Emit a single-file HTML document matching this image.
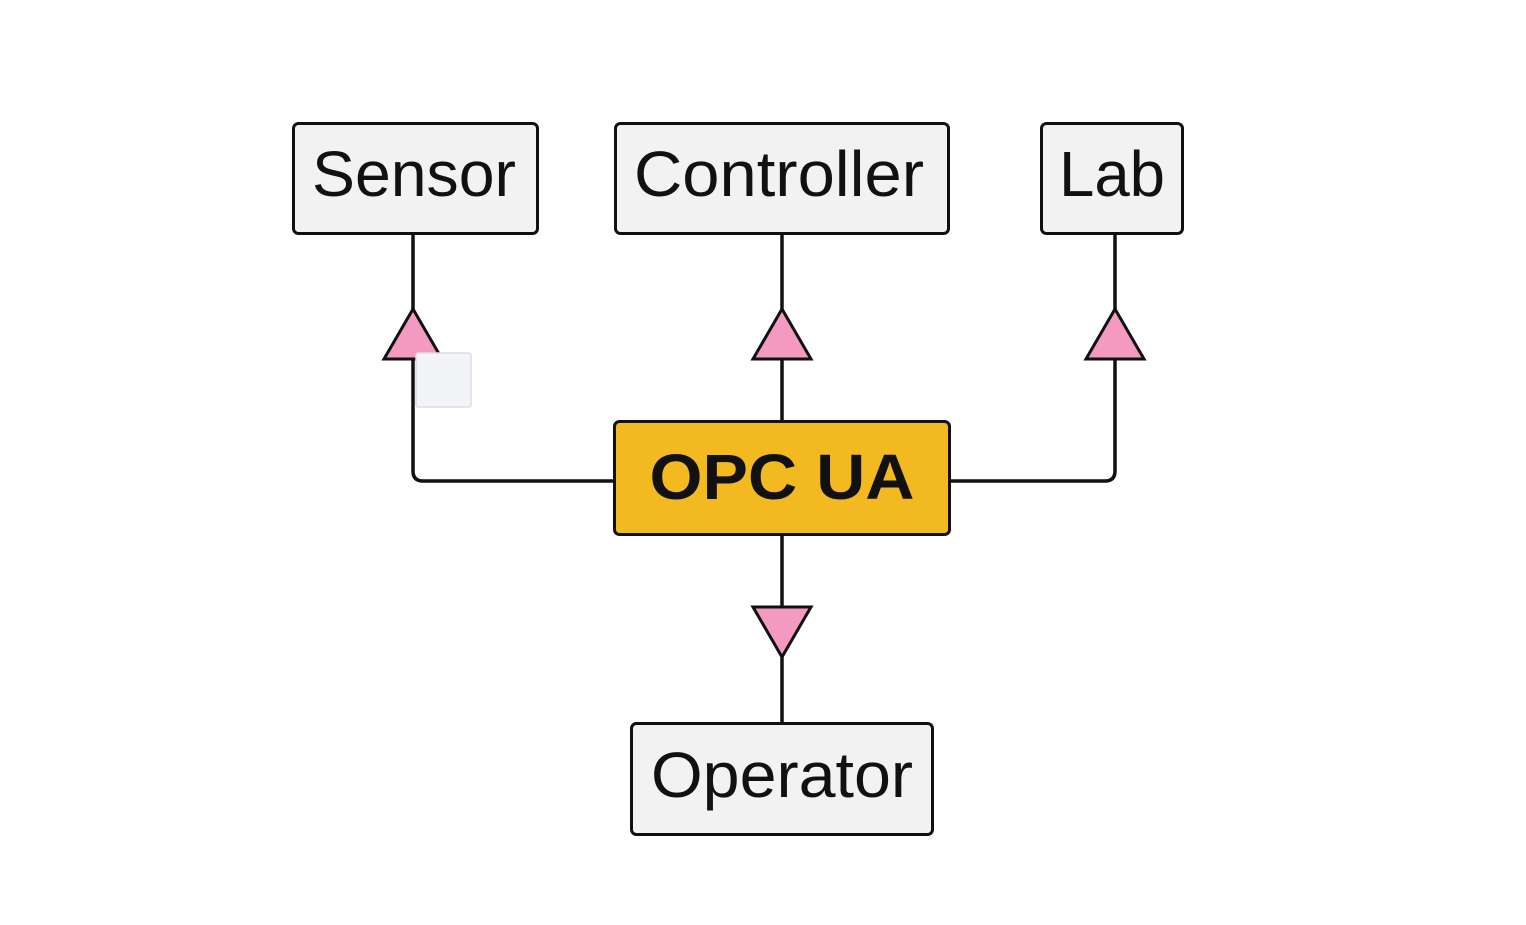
<!DOCTYPE html>
<html><head><style>html,body{margin:0;padding:0;background:#fff}</style></head>
<body>
<svg width="1526" height="920" viewBox="0 0 1526 920" xmlns="http://www.w3.org/2000/svg" font-family="Liberation Sans, sans-serif">
<rect width="1526" height="920" fill="#fff"/>
<g stroke="#111" stroke-width="3.5" fill="none">
<line x1="413" y1="234" x2="413" y2="310"/>
<line x1="782" y1="234" x2="782" y2="421"/>
<line x1="1115" y1="234" x2="1115" y2="310"/>
<path d="M413 358 V471 Q413 481 423 481 H614"/>
<path d="M950 481 H1105 Q1115 481 1115 471 V358"/>
<line x1="782" y1="535" x2="782" y2="723"/>
</g>
<g stroke="#111" stroke-width="3" fill="#f49ac0" stroke-linejoin="miter">
<polygon points="413,309 384,359 442,359"/>
<polygon points="782,309 753,359 811,359"/>
<polygon points="1115,309 1086,359 1144,359"/>
<polygon points="753,607 811,607 782,657"/>
</g>
<rect x="416" y="353" width="55" height="54" rx="2" fill="#f3f4f8" stroke="#dcdde2" stroke-width="1.5"/>
<g stroke="#111" stroke-width="3" fill="#f2f2f2">
<rect x="293.5" y="123.5" width="244" height="110" rx="5"/>
<rect x="615.5" y="123.5" width="333" height="110" rx="5"/>
<rect x="1041.5" y="123.5" width="141" height="110" rx="5"/>
<rect x="631.5" y="723.5" width="301" height="111" rx="5"/>
<rect x="614.5" y="421.5" width="335" height="113" rx="5" fill="#f2b920"/>
</g>
<g font-size="64" fill="#111" text-anchor="middle">
<text x="414" y="196" textLength="204" lengthAdjust="spacingAndGlyphs">Sensor</text>
<text x="779" y="196" textLength="290" lengthAdjust="spacingAndGlyphs">Controller</text>
<text x="1112" y="196" textLength="106" lengthAdjust="spacingAndGlyphs">Lab</text>
<text x="782" y="797" textLength="262" lengthAdjust="spacingAndGlyphs">Operator</text>
<text x="782" y="499" font-weight="bold" textLength="265" lengthAdjust="spacingAndGlyphs">OPC UA</text>
</g>
</svg>
</body></html>
